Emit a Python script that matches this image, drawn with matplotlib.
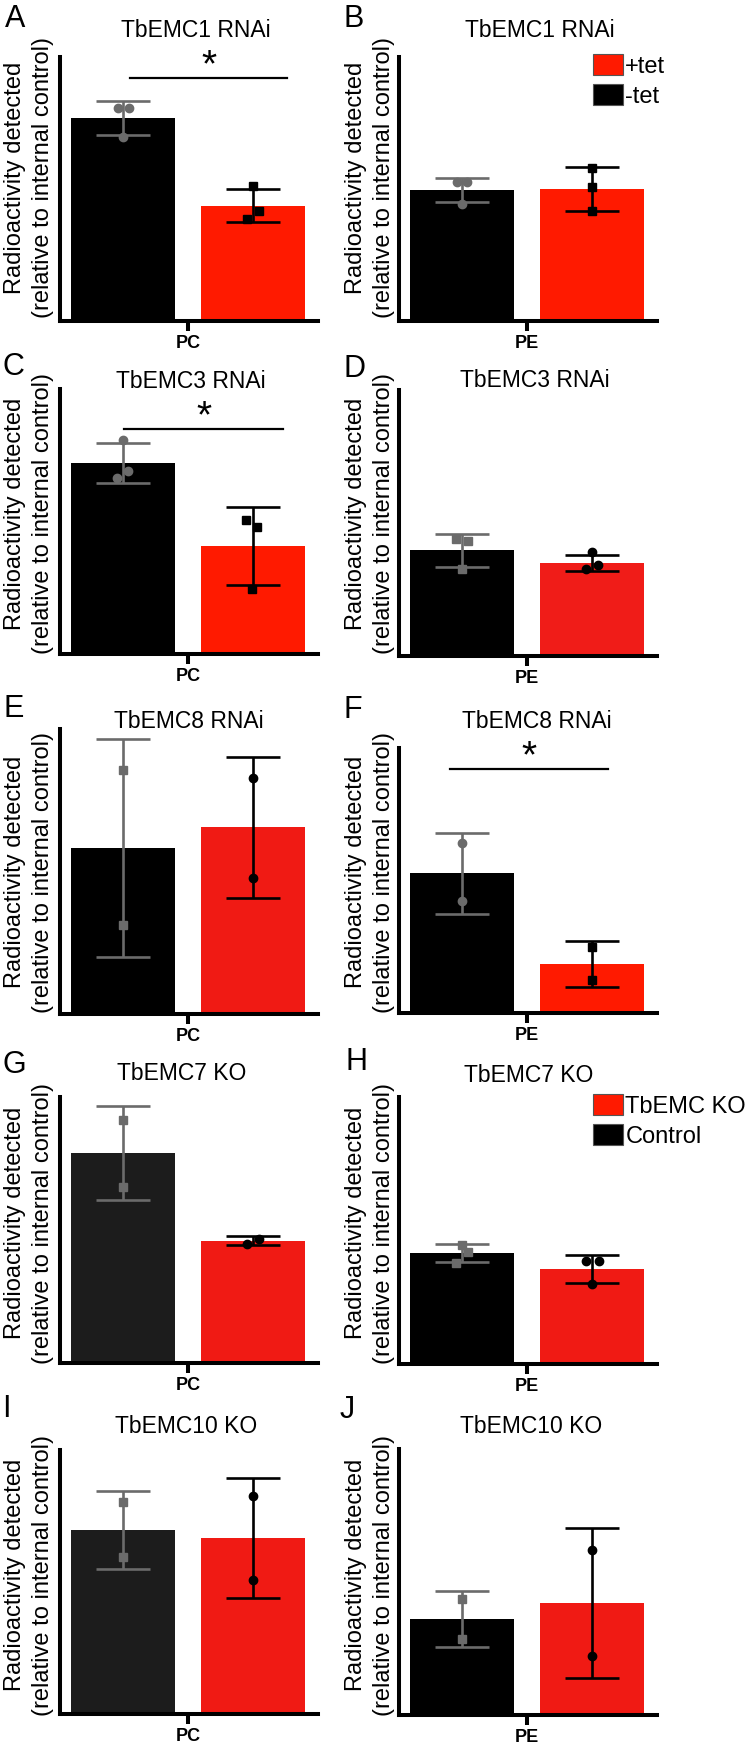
import matplotlib
matplotlib.use("Agg")
import matplotlib.pyplot as plt
from matplotlib.patches import Patch

plt.rcParams['font.family'] = ['Liberation Sans', 'DejaVu Sans']

# ---- data (relative units, axis top = 1) ----
panel_letters = ['A', 'B', 'C', 'D', 'E', 'F', 'G', 'H', 'I', 'J']
titles = ['TbEMC1 RNAi', 'TbEMC1 RNAi', 'TbEMC3 RNAi', 'TbEMC3 RNAi',
          'TbEMC8 RNAi', 'TbEMC8 RNAi', 'TbEMC7 KO', 'TbEMC7 KO',
          'TbEMC10 KO', 'TbEMC10 KO']
lipid = ['PC', 'PE', 'PC', 'PE', 'PC', 'PE', 'PC', 'PE', 'PC', 'PE']

ctrl_mean = [0.769, 0.496, 0.721, 0.398, 0.582, 0.528, 0.789, 0.416, 0.697, 0.361]
ctrl_sd = [0.065, 0.047, 0.0755, 0.062, 0.382, 0.153, 0.1765, 0.0335, 0.148, 0.107]
treat_mean = [0.436, 0.500, 0.408, 0.350, 0.656, 0.185, 0.459, 0.356, 0.667, 0.421]
treat_sd = [0.0625, 0.0815, 0.147, 0.030, 0.2475, 0.0885, 0.017, 0.0525, 0.2275, 0.282]

ctrl_points = [[0.807, 0.807, 0.697], [0.527, 0.527, 0.443], [0.808, 0.664, 0.691],
               [0.440, 0.432, 0.327], [0.856, 0.312], [0.642, 0.423],
               [0.914, 0.662], [0.446, 0.419, 0.378], [0.803, 0.595], [0.436, 0.286]]
treat_points = [[0.511, 0.417, 0.386], [0.580, 0.508, 0.417], [0.506, 0.479, 0.245],
                [0.391, 0.327, 0.342], [0.828, 0.477], [0.249, 0.125],
                [0.447, 0.466], [0.386, 0.386, 0.300], [0.826, 0.508], [0.620, 0.222]]

significant = [True, False, True, False, False, True, False, False, False, False]
legend_labels = {'B': ['+tet', '-tet'], 'H': ['TbEMC KO', 'Control']}
ylabel_lines = ['Radioactivity detected', '(relative to internal control)']

# ---- layout / style ----
W, H = 751, 1747
col_x = [(60, 318), (399, 657)]
axis_rows = [(57, 321), (57, 321), (389, 654), (390, 656), (729, 1014),
             (748, 1013), (1097, 1363), (1097, 1364), (1450, 1714), (1449, 1715)]
label_y = [178, 514, 872, 1223, 1575]
label_x = [(14.6, 43.4), (355.6, 384.4)]
title_x = [196, 540, 191, 535, 189, 537, 182, 529, 186, 531]
title_base = [37, 37, 388, 387, 728, 728, 1080, 1082, 1433, 1433]
letter_pos = [(5, 27), (343, 27), (2, 375), (343, 377), (3, 717), (343, 718),
              (3, 1073), (345, 1070), (2, 1417), (340, 1418)]
ctrl_jit = [[-0.04, 0.045, 0], [-0.04, 0.04, 0], [0, -0.045, 0.04], [-0.045, 0.045, 0],
            [0, 0], [0, 0], [0, 0], [0, 0.045, -0.045], [0, 0], [0, 0]]
treat_jit = [[0, 0.045, -0.045], [0, 0, 0], [-0.055, 0.03, -0.01], [0, -0.045, 0.045],
             [0, 0], [0, 0], [-0.045, 0.045], [-0.05, 0.05, 0], [0, 0], [0, 0]]
ctrl_marker = ['o', 'o', 'o', 's', 's', 'o', 's', 's', 's', 's']
treat_marker = ['s', 's', 's', 'o', 'o', 's', 'o', 'o', 'o', 'o']
sig_line = {0: (0.920, 0.053, 1.261), 2: (0.849, 0.007, 1.23), 5: (0.921, -0.096, 1.12)}
red_cols = ['#ff1a00', '#ff1a00', '#ff1a00', '#f01c18', '#f01a14',
            '#ff1a00', '#f01a14', '#f01a14', '#f01a14', '#f01a14']
black_cols = ['#000000'] * 6 + ['#1c1c1c', '#000000', '#1c1c1c', '#000000']
gray = '#6b6b6b'

fig = plt.figure(figsize=(W / 100, H / 100), dpi=100)

for i in range(10):
    col = i % 2
    x0, x1 = col_x[col]
    top, bot = axis_rows[i]
    ax = fig.add_axes([x0 / W, 1 - bot / H, (x1 - x0) / W, (bot - top) / H])

    ax.bar([0, 1], [ctrl_mean[i], treat_mean[i]], width=0.8,
           color=[black_cols[i], red_cols[i]], zorder=1)

    ax.errorbar(0, ctrl_mean[i], yerr=ctrl_sd[i], color=gray, elinewidth=1.9,
                capsize=19.5, capthick=1.9, zorder=3)
    ax.errorbar(1, treat_mean[i], yerr=treat_sd[i], color='black', elinewidth=1.9,
                capsize=19.5, capthick=1.9, zorder=3)
    ax.plot(ctrl_jit[i], ctrl_points[i], ctrl_marker[i], color=gray,
            ms=6, zorder=4, clip_on=False)
    ax.plot([1 + j for j in treat_jit[i]], treat_points[i], treat_marker[i],
            color='black', ms=6, zorder=4, clip_on=False)

    if significant[i]:
        y, xa, xb = sig_line[i]
        ax.plot([xa, xb], [y, y], color='black', lw=1.6, clip_on=False)
        ax.text((xa + xb) / 2, y + 0.005, '*', ha='center', va='baseline',
                fontsize=28, clip_on=False)

    ax.set_xlim(-0.487, 1.5)
    ax.set_ylim(0, 1)
    ax.set_xticks([0.5])
    ax.set_xticklabels([lipid[i]], fontsize=13, fontweight='bold')
    ax.set_yticks([])
    ax.tick_params(axis='x', direction='out', length=7, width=2.9, pad=3)
    for s in ['top', 'right']:
        ax.spines[s].set_visible(False)
    for s in ['left', 'bottom']:
        ax.spines[s].set_linewidth(2.9)
    ax.patch.set_alpha(0)

    letter = panel_letters[i]
    if letter in legend_labels:
        handles = [Patch(facecolor='#ff1a00', edgecolor='#555555', lw=0.8),
                   Patch(facecolor='black', edgecolor='#555555', lw=0.8)]
        ax.legend(handles, legend_labels[letter], loc='upper left',
                  bbox_to_anchor=(0.752, 1.01), frameon=False, fontsize=17,
                  handlelength=1.27, handleheight=1.0, handletextpad=0.1,
                  labelspacing=0.25, borderpad=0, borderaxespad=0)

    # title, panel letter, y label (two lines drawn separately)
    fig.text(title_x[i] / W, 1 - title_base[i] / H, titles[i],
             ha='center', va='baseline', fontsize=16.5)
    lx, ly = letter_pos[i]
    fig.text(lx / W, 1 - ly / H, letter, ha='left', va='baseline', fontsize=22)
    for k, line in enumerate(ylabel_lines):
        fig.text(label_x[col][k] / W, 1 - label_y[i // 2] / H, line,
                 rotation=90, ha='center', va='center', fontsize=17)

fig.savefig('out.png', dpi=100)
